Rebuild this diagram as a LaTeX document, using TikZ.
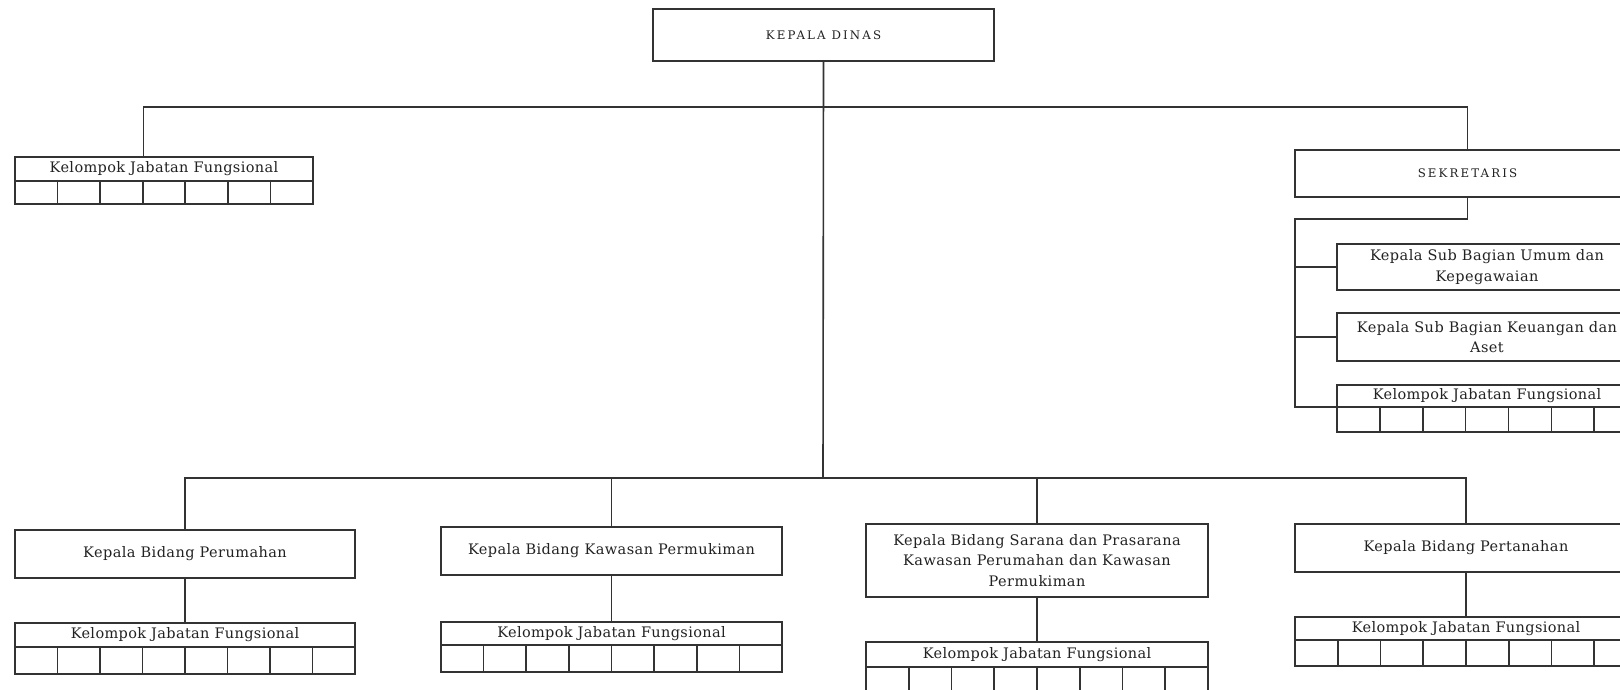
\documentclass[tikz,border=0pt]{standalone}
\usepackage{fontspec}
\setmainfont{DejaVu Serif}
\definecolor{ink}{HTML}{333333}
\definecolor{textink}{HTML}{222222}
\newcommand\orgbox[6]{% name, left, top, right, bottom, text
  \pgfmathsetmacro\bw{#4-#2}\pgfmathsetmacro\bh{#5-#3}%
  \node[box, minimum width=\bw pt, minimum height=\bh pt] (#1) at ({(#2+#4)/2},{(#3+#5)/2}) {#6};}
\newcommand\kjfgroup[7]{% name, left, top, split, bottom, right, cells
  \orgbox{#1}{#2}{#3}{#6}{#4}{\kjffont Kelompok Jabatan Fungsional}
  \foreach \i in {1,...,#7}{%
    \pgfmathsetmacro\cellL{#2+(\i-1)*(#6-#2)/#7}%
    \pgfmathsetmacro\cellR{#2+\i*(#6-#2)/#7}%
    \orgbox{#1-\i}{\cellL}{#4}{\cellR}{#5}{}}}
\newcommand\kjffont{\fontsize{14.5}{16}\selectfont\addfontfeature{LetterSpace=2.5}}
\newcommand\capfont{\fontsize{11.8}{14}\selectfont\addfontfeature{LetterSpace=18}}
\begin{document}
\begin{tikzpicture}[x=1pt,y=-1pt,
  box/.style={draw=ink, line width=1.6pt, fill=white, inner sep=0pt, align=center,
    text=textink, font=\fontsize{14.5}{20.5}\selectfont\addfontfeature{LetterSpace=3}},
  link/.style={draw=ink, line width=1.6pt}]
\fill[white] (0,0) rectangle (1620,689);
\path[use as bounding box] (0,0) rectangle (1620,689);
\clip (0,0) rectangle (1620,689);

% head of office
\orgbox{kd}{653}{9}{994}{61}{\capfont KEPALA DINAS}

% functional group directly under the head
\kjfgroup{kjf0}{15}{157}{181}{204}{313}{7}

% secretariat and its sub-sections
\orgbox{sek}{1295}{150}{1640}{197}{\capfont SEKRETARIS}
\orgbox{sub1}{1337}{244}{1637}{290}{Kepala Sub Bagian Umum dan\\Kepegawaian}
\orgbox{sub2}{1337}{313}{1637}{361}{Kepala Sub Bagian Keuangan dan\\Aset}
\kjfgroup{kjfs}{1337}{385}{407}{432}{1637}{7}

% divisions
\orgbox{b1}{15}{530}{355}{578}{Kepala Bidang Perumahan}
\orgbox{b2}{441}{527}{782}{575}{Kepala Bidang Kawasan Permukiman}
\orgbox{b3}{866}{524}{1208}{597}{Kepala Bidang Sarana dan Prasarana\\Kawasan Perumahan dan Kawasan\\Permukiman}
\orgbox{b4}{1295}{524}{1637}{572}{Kepala Bidang Pertanahan}

% functional groups under each division
\kjfgroup{kjf1}{15}{623}{647}{674}{355}{8}
\kjfgroup{kjf2}{441}{622}{645}{672}{782}{8}
\kjfgroup{kjf3}{866}{642}{667}{692}{1208}{8}
\kjfgroup{kjf4}{1295}{617}{640}{666}{1637}{8}

% connectors
\coordinate (busTop) at (823,107);
\coordinate (busLow) at (823,478);
\coordinate (spineTop) at (1295,219);
\coordinate (spineBot) at (1295,407);
\draw[link] (kd.south) -- (busLow);
\draw[link] (kjf0.north -| kjf0-3.east) |- (busTop) -| (sek.north);
\draw[link] (sek.south) |- (spineTop) -- (spineBot) -- (kjfs.south west |- spineBot);
\draw[link] (sub1.west) -- (sub1.west -| spineTop);
\draw[link] (sub2.west) -- (sub2.west -| spineTop);
\draw[link] (b1.north) |- (busLow) -| (b4.north);
\draw[link] (b2.north) -- (b2.north |- busLow);
\draw[link] (b3.north) -- (b3.north |- busLow);
\draw[link] (b1.south) -- (kjf1.north);
\draw[link] (b2.south) -- (kjf2.north);
\draw[link] (b3.south) -- (kjf3.north);
\draw[link] (b4.south) -- (kjf4.north);
\end{tikzpicture}
\end{document}
